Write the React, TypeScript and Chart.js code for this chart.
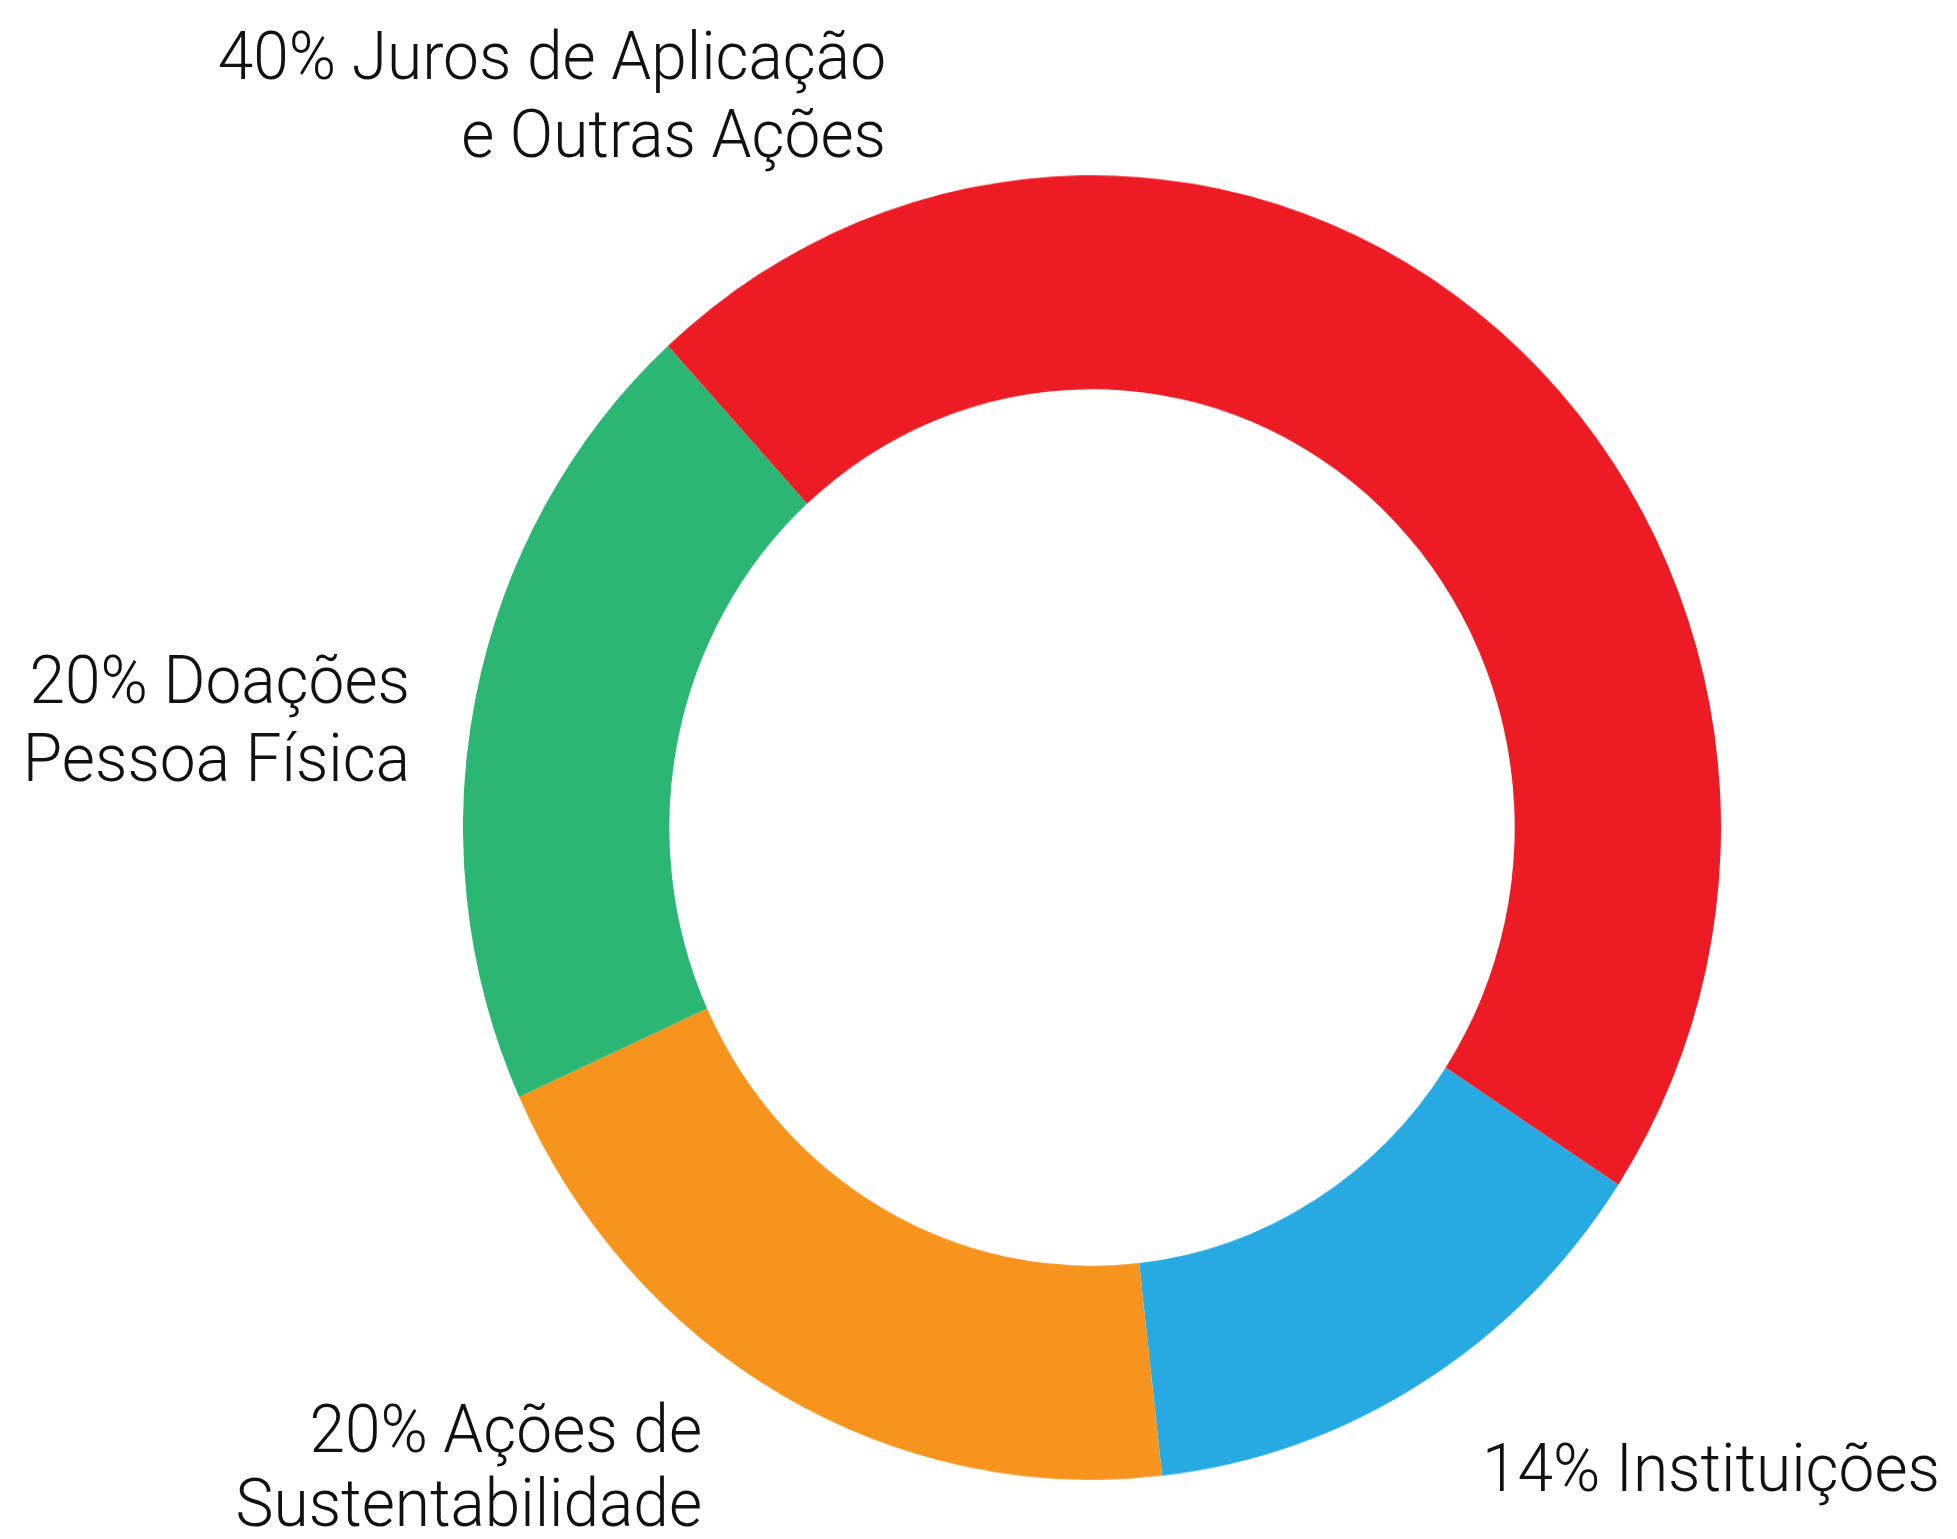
import React, { useEffect, useRef } from "react";
import { Chart, registerables } from "chart.js";

Chart.register(...registerables);

// ---- data ----
const categories = [
  "Juros de Aplicação e Outras Ações",
  "Instituições",
  "Ações de Sustentabilidade",
  "Doações Pessoa Física",
];
const values = [46, 14, 20, 20];
const labelTexts: string[][] = [
  ["40% Juros de Aplicação", "e Outras Ações"],
  ["14% Instituições"],
  ["20% Ações de", "Sustentabilidade"],
  ["20% Doações", "Pessoa Física"],
];

// ---- styles / layout ----
const colors = ["#ED1C24", "#27AAE1", "#F7941D", "#2BB673"];
const STRETCH = 1.037;
const PAGE_W = 1957;
const PAGE_H = 1539 / STRETCH;
const RING = { left: 463, top: 168.5, size: 1258 };
const FONT_SIZE = 64;
const BASELINE_OFFSET = 54;
const labelLayout = [
  { right: 886, baselines: [77, 151.5] },
  { right: 1940, baselines: [1438.7] },
  { right: 702, baselines: [1401, 1472.5] },
  { right: 410, baselines: [679, 754] },
];

export default function App() {
  const canvasRef = useRef<HTMLCanvasElement | null>(null);

  useEffect(() => {
    if (!canvasRef.current) return;
    const chart = new Chart(canvasRef.current, {
      type: "doughnut",
      data: {
        labels: categories,
        datasets: [
          {
            data: values,
            backgroundColor: colors,
            borderWidth: 0,
            hoverOffset: 0,
          },
        ],
      },
      options: {
        responsive: false,
        maintainAspectRatio: false,
        animation: false,
        rotation: -42.4,
        cutout: "67.2%",
        layout: { padding: 0 },
        plugins: {
          legend: { display: false },
          tooltip: { enabled: false },
          title: { display: false },
        },
      },
    });
    return () => chart.destroy();
  }, []);

  return (
    <div
      style={{
        position: "absolute",
        left: 0,
        top: 0,
        width: PAGE_W,
        height: PAGE_H,
        transform: `scaleY(${STRETCH})`,
        transformOrigin: "0 0",
        background: "#ffffff",
        overflow: "hidden",
      }}
    >
      <canvas
        ref={canvasRef}
        width={RING.size}
        height={RING.size}
        style={{
          position: "absolute",
          left: RING.left,
          top: RING.top,
          width: RING.size,
          height: RING.size,
        }}
      />
      {labelTexts.map((lines, i) =>
        lines.map((line, j) => (
          <div
            key={`${i}-${j}`}
            style={{
              position: "absolute",
              right: PAGE_W - labelLayout[i].right,
              top: labelLayout[i].baselines[j] - BASELINE_OFFSET,
              fontFamily: "Roboto, 'DejaVu Sans', sans-serif",
              fontWeight: 300,
              fontSize: FONT_SIZE,
              lineHeight: `${FONT_SIZE}px`,
              color: "#111111",
              whiteSpace: "nowrap",
              textAlign: "right",
            }}
          >
            {line}
          </div>
        ))
      )}
    </div>
  );
}
